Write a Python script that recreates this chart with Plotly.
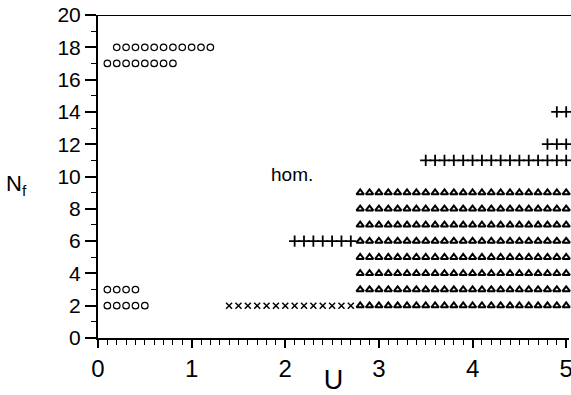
import plotly.graph_objects as go

# ---- data (U, N_f) ----
circ18_U = [0.2, 0.3, 0.4, 0.5, 0.6, 0.7, 0.8, 0.9, 1.0, 1.1, 1.2]
circ17_U = [0.1, 0.2, 0.3, 0.4, 0.5, 0.6, 0.7, 0.8]
circ3_U = [0.1, 0.2, 0.3, 0.4]
circ2_U = [0.1, 0.2, 0.3, 0.4, 0.5]
cross2_U = [1.4, 1.5, 1.6, 1.7, 1.8, 1.9, 2.0, 2.1, 2.2, 2.3, 2.4, 2.5, 2.6, 2.7]
plus6_U = [2.1, 2.2, 2.3, 2.4, 2.5, 2.6, 2.7]
plus11_U = [3.5, 3.6, 3.7, 3.8, 3.9, 4.0, 4.1, 4.2, 4.3, 4.4, 4.5, 4.6, 4.7, 4.8, 4.9, 5.0]
plus12_U = [4.8, 4.9, 5.0]
plus14_U = [4.9, 5.0]
tri_U = [2.8, 2.9, 3.0, 3.1, 3.2, 3.3, 3.4, 3.5, 3.6, 3.7, 3.8, 3.9, 4.0,
         4.1, 4.2, 4.3, 4.4, 4.5, 4.6, 4.7, 4.8, 4.9, 5.0]
tri_N = [2, 3, 4, 5, 6, 7, 8, 9]

x_ticks = [0, 1, 2, 3, 4, 5]
y_ticks = [0, 2, 4, 6, 8, 10, 12, 14, 16, 18, 20]

fig = go.Figure()

def add(xs, ys, symbol, size, lw):
    fig.add_trace(go.Scatter(
        x=xs, y=ys, mode="markers", showlegend=False, cliponaxis=False,
        marker=dict(symbol=symbol, size=size, color="black",
                    line=dict(color="black", width=lw))))

add(circ18_U, [18] * len(circ18_U), "circle-open", 6.5, 1.2)
add(circ17_U, [17] * len(circ17_U), "circle-open", 6.5, 1.2)
add(circ3_U, [3] * len(circ3_U), "circle-open", 6.5, 1.2)
add(circ2_U, [2] * len(circ2_U), "circle-open", 6.5, 1.2)
add(cross2_U, [2] * len(cross2_U), "x-thin", 6, 1.5)
add(plus6_U, [6] * len(plus6_U), "cross-thin", 8, 1.8)
add(plus11_U, [11] * len(plus11_U), "cross-thin", 8, 1.8)
add(plus12_U, [12] * len(plus12_U), "cross-thin", 8, 1.8)
add(plus14_U, [14] * len(plus14_U), "cross-thin", 8, 1.8)
tx = [u for n in tri_N for u in tri_U]
ty = [n for n in tri_N for u in tri_U]
add(tx, ty, "triangle-up-open", 6.5, 2)

fig.add_annotation(x=2.07, y=10.1, text="hom.", showarrow=False,
                   font=dict(size=19, color="black", family="Liberation Sans"))
fig.add_annotation(xref="paper", yref="paper", x=-0.2, y=0.475,
                   text="N<sub>f</sub>", showarrow=False,
                   font=dict(size=22, color="black", family="Liberation Sans"))

# top frame line
fig.add_shape(type="line", xref="paper", yref="y", x0=-0.025, x1=1.01, y0=20, y1=20,
              line=dict(color="black", width=2))

fig.update_xaxes(
    range=[0, 5.03], tickvals=x_ticks, ticktext=[str(v) for v in x_ticks],
    showgrid=False, zeroline=False, showline=True, linecolor="black", linewidth=2,
    mirror=False, ticks="outside", ticklen=8, tickwidth=1.5, tickcolor="black",
    minor=dict(dtick=0.1, tick0=0, ticks="outside", ticklen=5, tickwidth=1.2,
               tickcolor="black", showgrid=False),
    tickfont=dict(size=24, color="black", family="Liberation Sans"),
    ticklabeloverflow="allow", automargin=False,
    title=dict(text="U", font=dict(size=27, color="black", family="Liberation Sans"), standoff=0))
fig.update_yaxes(
    range=[0, 20], tickvals=y_ticks, ticktext=[str(v) for v in y_ticks],
    showgrid=False, zeroline=False, showline=True, linecolor="black", linewidth=2,
    mirror=False, ticks="outside", ticklen=11, tickwidth=1.5, tickcolor="black",
    minor=dict(dtick=1, tick0=0, ticks="outside", ticklen=5, tickwidth=1.2,
               tickcolor="black", showgrid=False),
    tickfont=dict(size=21, color="black", family="Liberation Sans"),
    ticklabeloverflow="allow", automargin=False)

fig.update_layout(
    width=571, height=395,
    margin=dict(l=98, r=2, t=15, b=57),
    plot_bgcolor="white", paper_bgcolor="white")

fig.write_html("out.html")
